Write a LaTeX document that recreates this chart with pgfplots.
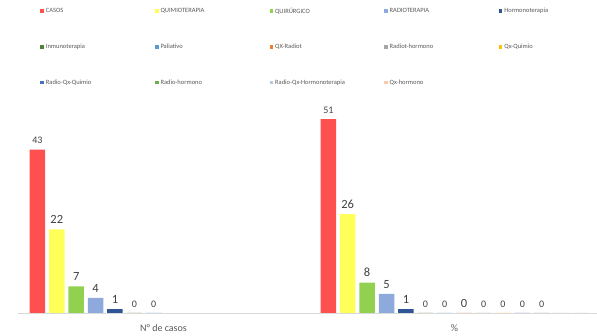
\documentclass[border=0pt]{standalone}
\usepackage{pgfplots}
\pgfplotsset{compat=1.18}
\usepackage{fontspec}
\setmainfont{Carlito}
\definecolor{c1}{HTML}{FF5050}
\definecolor{c2}{HTML}{FFFF5A}
\definecolor{c3}{HTML}{92D050}
\definecolor{c4}{HTML}{8EA9DB}
\definecolor{c5}{HTML}{2F5597}
\definecolor{c6}{HTML}{548235}
\definecolor{c7}{HTML}{5B9BD5}
\definecolor{c8}{HTML}{ED7D31}
\definecolor{c9}{HTML}{A5A5A5}
\definecolor{c10}{HTML}{FFC000}
\definecolor{c11}{HTML}{4472C4}
\definecolor{c12}{HTML}{70AD47}
\definecolor{c13}{HTML}{B4C7E7}
\definecolor{c14}{HTML}{F8CBAD}
\definecolor{numgray}{HTML}{404040}
\definecolor{labgray}{HTML}{595959}
\newcommand{\lt}[1]{\makebox[107pt][l]{#1}}
\begin{document}
\begin{tikzpicture}
\begin{axis}[
  at={(18pt,23pt)}, anchor=south west,
  scale only axis, width=579pt, height=228pt,
  xmin=-0.5, xmax=1.49, ymin=0, ymax=60,
  ybar=3.9pt, bar width=15.5pt,
  axis x line*=bottom, axis y line=none,
  x axis line style={draw=black!15, line width=0.8pt, -},
  xtick={0,1}, xticklabels={N° de casos,\%},
  major tick length=0pt,
  xticklabel style={font=\fontsize{10}{12}\selectfont, text=labgray, yshift=-8pt},
  clip=false,
  /pgf/number format/assume math mode=true,
  nodes near coords,
  every node near coord/.append style={font=\fontsize{10}{12}\selectfont, text=numgray, yshift=2pt},
  legend columns=5,
  legend style={draw=none, fill=none, at={(0.033,1.358)}, anchor=north west,
    font=\fontsize{6.5}{8}\selectfont, text=labgray, row sep=25.5pt, column sep=0pt},
  legend image code/.code={\fill[#1] (0pt,-1.8pt) rectangle (3.6pt,1.8pt);},
]
\addplot+[fill=c1, draw=none] coordinates {(0,43) (1,51)};
\addlegendentry{\lt{CASOS}}
\addplot+[fill=c2, draw=none, every node near coord/.append style={font=\fontsize{12.5}{14}\selectfont}] coordinates {(0,22) (1,26)};
\addlegendentry{\lt{QUIMIOTERAPIA}}
\addplot+[fill=c3, draw=none, every node near coord/.append style={font=\fontsize{12.5}{14}\selectfont}] coordinates {(0,7) (1,8)};
\addlegendentry{\lt{QUIRÚRGICO}}
\addplot+[fill=c4, draw=none, every node near coord/.append style={font=\fontsize{12.5}{14}\selectfont}] coordinates {(0,4) (1,5)};
\addlegendentry{\lt{RADIOTERAPIA}}
\addplot+[fill=c5, draw=none, every node near coord/.append style={font=\fontsize{12.5}{14}\selectfont}] coordinates {(0,1) (1,1)};
\addlegendentry{\lt{Hormonoterapia}}
\addplot+[fill=c6, draw=none] coordinates {(0,0) (1,0)};
\addlegendentry{\lt{Inmunoterapia}}
\addplot+[fill=c7, draw=none] coordinates {(0,0) (1,0)};
\addlegendentry{\lt{Paliativo}}
\addplot+[fill=c8, draw=none, every node near coord/.append style={font=\fontsize{12.5}{14}\selectfont}] coordinates {(1,0)};
\addlegendentry{\lt{QX-Radiot}}
\addplot+[fill=c9, draw=none] coordinates {(1,0)};
\addlegendentry{\lt{Radiot-hormono}}
\addplot+[fill=c10, draw=none] coordinates {(1,0)};
\addlegendentry{\lt{Qx-Quimio}}
\addplot+[fill=c11, draw=none] coordinates {(1,0)};
\addlegendentry{\lt{Radio-Qx-Quimio}}
\addplot+[fill=c12, draw=none] coordinates {(1,0)};
\addlegendentry{\lt{Radio-hormono}}
\addplot+[fill=c13, draw=none, nodes near coords={}] coordinates {(1,0)};
\addlegendentry{\lt{Radio-Qx-Hormonoterapia}}
\addplot+[fill=c14, draw=none, nodes near coords={}] coordinates {(1,0)};
\addlegendentry{\lt{Qx-hormono}}
\end{axis}
\pgfresetboundingbox
\path[use as bounding box] (0,0) rectangle (597pt,336pt);
\end{tikzpicture}
\end{document}
